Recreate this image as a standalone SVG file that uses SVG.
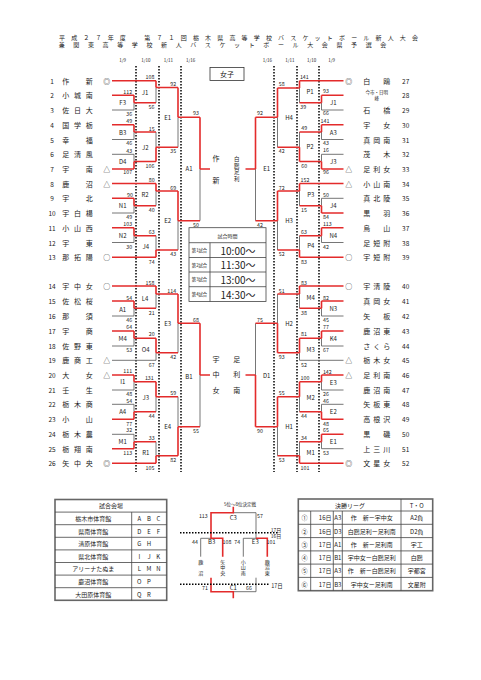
<svg xmlns="http://www.w3.org/2000/svg" width="481" height="680" viewBox="0 0 481 680">
<style>
text{font-family:"Noto Sans CJK JP","Liberation Sans",sans-serif;fill:#222;dominant-baseline:central}
.nm{font-size:7px;text-anchor:middle}
.n{font-size:6.5px;text-anchor:middle}
.mk{font-size:7px;text-anchor:middle}
.sc{font-size:5.3px;text-anchor:middle}
.bx{font-size:6px;text-anchor:middle}
.dt{font-size:4.5px;text-anchor:middle}
.r{stroke:#e32b2b;stroke-width:1.6;fill:none}
.g{stroke:#666;stroke-width:0.9;fill:none}
.dot{stroke:#000;stroke-width:1.5;stroke-dasharray:1.5 1.5;fill:none}
.tb{stroke:#444;stroke-width:0.8;fill:none}
.tbo{stroke:#666;stroke-width:1.6;fill:none}
</style>
<rect width="481" height="680" fill="#fff"/>
<g id="title">
<text x="59" y="37" font-size="6" textLength="359" lengthAdjust="spacing">平成２７年度　第７１回栃木県高等学校バスケットボール新人大会</text>
<text x="58.7" y="44.5" font-size="6" textLength="327.6" lengthAdjust="spacing">兼関東高等学校新人バスケットボール大会県予選会</text>
</g>
<g id="dates">
<text class="dt" x="122.7" y="60">1/9</text><text class="dt" x="146" y="60">1/10</text><text class="dt" x="168.3" y="60">1/11</text><text class="dt" x="190.7" y="60">1/16</text>
<text class="dt" x="267.3" y="60">1/16</text><text class="dt" x="290" y="60">1/11</text><text class="dt" x="311.7" y="60">1/10</text><text class="dt" x="331.7" y="60">1/9</text>
</g>
<g id="guides">
<path class="dot" d="M136,66V472M159,66V472M181,66V472M274,66V472M297,66V472M319,66V472"/>
</g>
<g id="girls-label">
<rect x="210" y="67.5" width="34" height="13" fill="none" stroke="#333" stroke-width="0.8"/>
<text x="227" y="74" font-size="7" text-anchor="middle">女子</text>
</g>
<g id="connectors">
<path class="g" d="M112,110H134M134,102.7V110M156,87.5V102.7M112,139.5H134M134,132V139.5M112,154.3H134M134,154.3V161.5M156,132V147.3M178,117.3V147.3M112,213H134M134,205.7V213M156,191V205.7M112,242.5H134M134,235.7V242.5M156,235.7V250M178,220.7V250M200,169V220.7M112,316H134M134,308.3V316M156,294V308.3M112,346H134M134,338.3V346M112,360.3H156M156,352.7V360.3M178,323.3V352.7M112,390H134M134,381.7V390M112,404.3H134M134,404.3V411.7M156,396.7V411.7M112,434.3H134M134,434.3V441.7M156,441.7V455.7M178,396.7V426.7M200,375V426.7"/>
<path class="g" d="M343.5,110H321.5M321.5,102.7V110M299.5,88V102.7M343.5,139.5H321.5M321.5,132V139.5M343.5,154.3H321.5M321.5,154.3V161.5M299.5,132V147.3M277.5,117.3V147.3M343.5,198.3H321.5M321.5,198.3V205.7M299.5,191V205.7M343.5,242.5H321.5M321.5,235.7V242.5M299.5,235.7V250M277.5,220.7V250M255.5,169V220.7M343.5,316H321.5M321.5,308.3V316M299.5,294V308.3M343.5,346H321.5M321.5,338.3V346M343.5,360.3H299.5M299.5,352.7V360.3M277.5,294V323.3M343.5,390H321.5M321.5,381.7V390M343.5,404.3H321.5M321.5,404.3V411.7M299.5,396.7V411.7M343.5,448.7H321.5M321.5,441.7V448.7M299.5,441.7V455.7M277.5,426.7V455.7M255.5,323.3V375"/>
<path class="r" d="M112,80.7H156M112,95.3H134M134,102.7H156M156,87.5H178M112,124.8H134M134,132H156M112,169H134M134,161.5H156M156,147.3H178M178,117.3H200M112,183.5H156M112,198.3H134M134,205.7H156M156,191H178M112,227.7H134M134,235.7H156M112,257.3H156M156,250H178M178,220.7H200M200,169H210M112,286H156M112,301H134M134,308.3H156M156,294H178M112,331H134M134,338.3H156M156,352.7H178M178,323.3H200M112,375H134M134,381.7H156M112,419.3H134M134,411.7H156M156,396.7H178M112,448.7H134M134,441.7H156M112,463.3H156M156,455.7H178M178,426.7H200M200,375H210"/>
<path class="r" d="M134,95.3V102.7M156,80.7V87.5M134,124.8V132M134,161.5V169M156,147.3V161.5M178,87.5V117.3M134,198.3V205.7M156,183.5V191M134,227.7V235.7M156,250V257.3M178,191V220.7M200,117.3V169M134,301V308.3M156,286V294M134,331V338.3M156,338.3V352.7M178,294V323.3M134,375V381.7M134,411.7V419.3M156,381.7V396.7M134,441.7V448.7M156,455.7V463.3M178,426.7V455.7M200,323.3V375"/>
<path class="r" d="M343.5,80.7H299.5M343.5,95.3H321.5M321.5,102.7H299.5M299.5,88H277.5M343.5,124.8H321.5M321.5,132H299.5M343.5,169H321.5M321.5,161.5H299.5M299.5,147.3H277.5M277.5,117.3H255.5M343.5,183.5H299.5M343.5,213H321.5M321.5,205.7H299.5M299.5,191H277.5M343.5,227.7H321.5M321.5,235.7H299.5M343.5,257.3H299.5M299.5,250H277.5M277.5,220.7H255.5M255.5,169H245.5M343.5,286H299.5M343.5,301H321.5M321.5,308.3H299.5M299.5,294H277.5M343.5,331H321.5M321.5,338.3H299.5M299.5,352.7H277.5M277.5,323.3H255.5M343.5,375H321.5M321.5,381.7H299.5M343.5,419.3H321.5M321.5,411.7H299.5M299.5,396.7H277.5M343.5,434.3H321.5M321.5,441.7H299.5M343.5,463.3H299.5M299.5,455.7H277.5M277.5,426.7H255.5M255.5,375H245.5"/>
<path class="r" d="M321.5,95.3V102.7M299.5,80.7V88M321.5,124.8V132M321.5,161.5V169M299.5,147.3V161.5M277.5,88V117.3M321.5,205.7V213M299.5,183.5V191M321.5,227.7V235.7M299.5,250V257.3M277.5,191V220.7M255.5,117.3V169M321.5,301V308.3M299.5,286V294M321.5,331V338.3M299.5,338.3V352.7M277.5,323.3V352.7M321.5,375V381.7M321.5,411.7V419.3M299.5,381.7V396.7M321.5,434.3V441.7M299.5,455.7V463.3M277.5,396.7V426.7M255.5,375V426.7"/>
<path class="g" d="M233.3,512.7H256V538.3M243.3,538.3H256M243.3,538.3V556.7M200.7,538.3H211M200.7,538.3V556.7M256,577.7V591.7H233.3"/>
<path class="r" d="M233.3,506.7V512.7H211V538.3H222.7V556.7M256,538.3H267.3V556.7M211,577.7V591.7H233.3V598.3"/>
<path class="dot" stroke-width="0.8" d="M180,532.7H279M180,584.3H270"/>
</g>
<g id="left-teams">
<g id="t1"><text class="n" x="52" y="80.7">1</text><text class="nm" x="65.7 89.3" y="80.7">作新</text><text class="mk" x="106.7" y="80.7">◎</text></g>
<g id="t2"><text class="n" x="52" y="95.3">2</text><text class="nm" x="65.7 77.5 89.3" y="95.3">小城南</text></g>
<g id="t3"><text class="n" x="52" y="110">3</text><text class="nm" x="65.7 77.5 89.3" y="110">佐日大</text></g>
<g id="t4"><text class="n" x="52" y="124.8">4</text><text class="nm" x="65.7 77.5 89.3" y="124.8">国学栃</text></g>
<g id="t5"><text class="n" x="52" y="139.5">5</text><text class="nm" x="65.7 89.3" y="139.5">幸福</text></g>
<g id="t6"><text class="n" x="52" y="154.3">6</text><text class="nm" x="65.7 77.5 89.3" y="154.3">足清風</text></g>
<g id="t7"><text class="n" x="52" y="169">7</text><text class="nm" x="65.7 89.3" y="169">宇南</text><text class="mk" x="106.7" y="169">△</text></g>
<g id="t8"><text class="n" x="52" y="183.5">8</text><text class="nm" x="65.7 89.3" y="183.5">鹿沼</text><text class="mk" x="106.7" y="183.5">△</text></g>
<g id="t9"><text class="n" x="52" y="198.3">9</text><text class="nm" x="65.7 89.3" y="198.3">宇北</text></g>
<g id="t10"><text class="n" x="52" y="213">10</text><text class="nm" x="65.7 77.5 89.3" y="213">宇白楊</text></g>
<g id="t11"><text class="n" x="52" y="227.7">11</text><text class="nm" x="65.7 77.5 89.3" y="227.7">小山西</text></g>
<g id="t12"><text class="n" x="52" y="242.5">12</text><text class="nm" x="65.7 89.3" y="242.5">宇東</text></g>
<g id="t13"><text class="n" x="52" y="257.3">13</text><text class="nm" x="65.7 77.5 89.3" y="257.3">那拓陽</text><text class="mk" x="106.7" y="257.3">○</text></g>
<g id="t14"><text class="n" x="52" y="286">14</text><text class="nm" x="65.7 77.5 89.3" y="286">宇中女</text><text class="mk" x="106.7" y="286">○</text></g>
<g id="t15"><text class="n" x="52" y="301">15</text><text class="nm" x="65.7 77.5 89.3" y="301">佐松桜</text></g>
<g id="t16"><text class="n" x="52" y="316">16</text><text class="nm" x="65.7 89.3" y="316">那須</text></g>
<g id="t17"><text class="n" x="52" y="331">17</text><text class="nm" x="65.7 89.3" y="331">宇商</text></g>
<g id="t18"><text class="n" x="52" y="346">18</text><text class="nm" x="65.7 77.5 89.3" y="346">佐野東</text></g>
<g id="t19"><text class="n" x="52" y="360.3">19</text><text class="nm" x="65.7 77.5 89.3" y="360.3">鹿商工</text><text class="mk" x="106.7" y="360.3">△</text></g>
<g id="t20"><text class="n" x="52" y="375">20</text><text class="nm" x="65.7 89.3" y="375">大女</text><text class="mk" x="106.7" y="375">△</text></g>
<g id="t21"><text class="n" x="52" y="390">21</text><text class="nm" x="65.7 89.3" y="390">壬生</text></g>
<g id="t22"><text class="n" x="52" y="404.3">22</text><text class="nm" x="65.7 77.5 89.3" y="404.3">栃木商</text></g>
<g id="t23"><text class="n" x="52" y="419.3">23</text><text class="nm" x="65.7 89.3" y="419.3">小山</text></g>
<g id="t24"><text class="n" x="52" y="434.3">24</text><text class="nm" x="65.7 77.5 89.3" y="434.3">栃木農</text></g>
<g id="t25"><text class="n" x="52" y="448.7">25</text><text class="nm" x="65.7 77.5 89.3" y="448.7">栃翔南</text></g>
<g id="t26"><text class="n" x="52" y="463.3">26</text><text class="nm" x="65.7 77.5 89.3" y="463.3">矢中央</text><text class="mk" x="106.7" y="463.3">◎</text></g>
</g>
<g id="right-teams">
<g id="t27"><text class="mk" x="348.8" y="80.7">◎</text><text class="nm" x="366.7 386.7" y="80.7">白鴎</text><text class="n" x="405.7" y="80.7">27</text></g>
<g id="t28"><text x="376.7" y="92" font-size="4.5" text-anchor="middle">今市・日明</text><text x="376.7" y="97.8" font-size="4.5" text-anchor="middle">峰</text><text class="n" x="405.7" y="95.3">28</text></g>
<g id="t29"><text class="nm" x="366.7 386.7" y="110">石橋</text><text class="n" x="405.7" y="110">29</text></g>
<g id="t30"><text class="nm" x="366.7 386.7" y="124.8">宇女</text><text class="n" x="405.7" y="124.8">30</text></g>
<g id="t31"><text class="nm" x="366.7 376.7 386.7" y="139.5">真岡南</text><text class="n" x="405.7" y="139.5">31</text></g>
<g id="t32"><text class="nm" x="366.7 386.7" y="154.3">茂木</text><text class="n" x="405.7" y="154.3">32</text></g>
<g id="t33"><text class="mk" x="348.8" y="169">△</text><text class="nm" x="366.7 376.7 386.7" y="169">足利女</text><text class="n" x="405.7" y="169">33</text></g>
<g id="t34"><text class="mk" x="348.8" y="183.5">△</text><text class="nm" x="366.7 376.7 386.7" y="183.5">小山南</text><text class="n" x="405.7" y="183.5">34</text></g>
<g id="t35"><text class="nm" x="366.7 376.7 386.7" y="198.3">真北陵</text><text class="n" x="405.7" y="198.3">35</text></g>
<g id="t36"><text class="nm" x="366.7 386.7" y="213">黒羽</text><text class="n" x="405.7" y="213">36</text></g>
<g id="t37"><text class="nm" x="366.7 386.7" y="227.7">烏山</text><text class="n" x="405.7" y="227.7">37</text></g>
<g id="t38"><text class="nm" x="366.7 376.7 386.7" y="242.5">足短附</text><text class="n" x="405.7" y="242.5">38</text></g>
<g id="t39"><text class="mk" x="348.8" y="257.3">○</text><text class="nm" x="366.7 376.7 386.7" y="257.3">宇短附</text><text class="n" x="405.7" y="257.3">39</text></g>
<g id="t40"><text class="mk" x="348.8" y="286">○</text><text class="nm" x="366.7 376.7 386.7" y="286">宇清陵</text><text class="n" x="405.7" y="286">40</text></g>
<g id="t41"><text class="nm" x="366.7 376.7 386.7" y="301">真岡女</text><text class="n" x="405.7" y="301">41</text></g>
<g id="t42"><text class="nm" x="366.7 386.7" y="316">矢板</text><text class="n" x="405.7" y="316">42</text></g>
<g id="t43"><text class="nm" x="366.7 376.7 386.7" y="331">鹿沼東</text><text class="n" x="405.7" y="331">43</text></g>
<g id="t44"><text class="nm" x="366.7 376.7 386.7" y="346">さくら</text><text class="n" x="405.7" y="346">44</text></g>
<g id="t45"><text class="mk" x="348.8" y="360.3">△</text><text class="nm" x="366.7 376.7 386.7" y="360.3">栃木女</text><text class="n" x="405.7" y="360.3">45</text></g>
<g id="t46"><text class="mk" x="348.8" y="375">△</text><text class="nm" x="366.7 376.7 386.7" y="375">足利南</text><text class="n" x="405.7" y="375">46</text></g>
<g id="t47"><text class="nm" x="366.7 376.7 386.7" y="390">鹿沼南</text><text class="n" x="405.7" y="390">47</text></g>
<g id="t48"><text class="nm" x="366.7 376.7 386.7" y="404.3">矢板東</text><text class="n" x="405.7" y="404.3">48</text></g>
<g id="t49"><text class="nm" x="366.7 376.7 386.7" y="419.3">高根沢</text><text class="n" x="405.7" y="419.3">49</text></g>
<g id="t50"><text class="nm" x="366.7 386.7" y="434.3">黒磯</text><text class="n" x="405.7" y="434.3">50</text></g>
<g id="t51"><text class="nm" x="366.7 376.7 386.7" y="448.7">上三川</text><text class="n" x="405.7" y="448.7">51</text></g>
<g id="t52"><text class="mk" x="348.8" y="463.3">◎</text><text class="nm" x="366.7 376.7 386.7" y="463.3">文星女</text><text class="n" x="405.7" y="463.3">52</text></g>
</g>
<g id="left-matches">
<text class="sc" x="150" y="76.7">108</text><text class="sc" x="127.7" y="92">112</text><text class="bx" x="122.7" y="102.7">F3</text><text class="bx" x="145" y="92.3">J1</text><text class="sc" x="151.5" y="106.7">56</text><text class="sc" x="129.3" y="113.7">36</text>
<text class="sc" x="173.3" y="84.3">92</text><text class="bx" x="167.7" y="117.3">E1</text><text class="sc" x="196" y="113.3">93</text>
<text class="sc" x="129.3" y="121">49</text><text class="bx" x="122.7" y="132.3">B3</text><text class="sc" x="151.7" y="129">15</text><text class="sc" x="129.3" y="143.3">46</text><text class="bx" x="145.3" y="147.3">J2</text><text class="sc" x="173.3" y="150.7">35</text>
<text class="sc" x="129.3" y="150.7">43</text><text class="bx" x="122.7" y="161.5">D4</text><text class="sc" x="150" y="166">106</text><text class="sc" x="127.7" y="172">107</text>
<text class="bx" x="189" y="168.3">A1</text>
<text class="sc" x="151.7" y="180">80</text><text class="sc" x="173.3" y="187.7">69</text><text class="bx" x="145" y="194.3">R2</text><text class="sc" x="130" y="195">90</text><text class="bx" x="122.7" y="205.7">N1</text><text class="sc" x="151.7" y="210">40</text><text class="sc" x="129.3" y="217.3">49</text>
<text class="bx" x="167.7" y="220.7">E2</text><text class="sc" x="196" y="225">50</text>
<text class="sc" x="127.7" y="224.3">103</text><text class="sc" x="151.7" y="231.7">63</text><text class="bx" x="122.7" y="235.7">N2</text><text class="sc" x="129.3" y="246.7">30</text><text class="bx" x="145.7" y="246.7">J4</text><text class="sc" x="173.3" y="254.3">43</text><text class="sc" x="151.7" y="261.7">74</text>
<text class="sc" x="150" y="282.7">158</text><text class="sc" x="171.7" y="290.7">114</text><text class="sc" x="129.3" y="297.7">54</text><text class="bx" x="145" y="298.3">L4</text><text class="bx" x="122.7" y="309">A1</text><text class="sc" x="151.7" y="312.7">21</text><text class="sc" x="129.3" y="320">46</text>
<text class="sc" x="196" y="320">68</text><text class="bx" x="167.7" y="323.3">E3</text>
<text class="sc" x="129.3" y="327.3">64</text><text class="sc" x="151.7" y="334.3">20</text><text class="bx" x="122.7" y="338.3">M4</text><text class="bx" x="145.7" y="349.3">O4</text><text class="sc" x="129.3" y="350">53</text><text class="sc" x="173.3" y="357.3">42</text><text class="sc" x="151.7" y="365">67</text>
<text class="sc" x="127.7" y="371">111</text><text class="bx" x="189" y="376">B1</text><text class="sc" x="149.3" y="378">131</text><text class="bx" x="122.7" y="381.7">I1</text><text class="sc" x="173.3" y="393.3">59</text><text class="sc" x="129.3" y="393.8">48</text><text class="bx" x="145.7" y="397.7">J3</text>
<text class="sc" x="129.3" y="401">54</text><text class="bx" x="122.7" y="411.7">A4</text><text class="sc" x="151.7" y="415.7">44</text><text class="sc" x="129.3" y="423.7">77</text><text class="bx" x="167.7" y="426.7">E4</text>
<text class="sc" x="129.3" y="430.3">32</text><text class="sc" x="196" y="431">55</text><text class="sc" x="151.7" y="437.7">33</text><text class="bx" x="122.7" y="441.7">M1</text><text class="bx" x="145.7" y="452.3">R1</text><text class="sc" x="127.7" y="453">113</text><text class="sc" x="173.3" y="460">82</text><text class="sc" x="150" y="467.7">105</text>
</g>
<g id="right-matches">
<text class="sc" x="304.3" y="76.7">141</text><text class="sc" x="281.7" y="84.3">58</text><text class="sc" x="326" y="91">93</text><text class="bx" x="310" y="91.7">P1</text><text class="bx" x="333.3" y="102.7">J1</text><text class="sc" x="303.3" y="106.7">39</text><text class="sc" x="326" y="113.3">66</text>
<text class="sc" x="260" y="113.3">92</text><text class="bx" x="289" y="117.3">H4</text>
<text class="sc" x="325" y="121">141</text><text class="sc" x="304.3" y="128.3">49</text><text class="bx" x="333.3" y="132.3">A3</text><text class="sc" x="326" y="143.3">43</text><text class="bx" x="310" y="146.7">P2</text><text class="sc" x="281.7" y="150.7">42</text>
<text class="sc" x="326" y="150.3">16</text><text class="bx" x="333.3" y="161">J3</text><text class="sc" x="304.3" y="166">60</text><text class="sc" x="326" y="172">96</text>
<text class="bx" x="266.7" y="168.3">E1</text>
<text class="sc" x="305" y="180">152</text><text class="sc" x="281.7" y="187.7">72</text><text class="bx" x="310.7" y="194.3">P3</text><text class="sc" x="326" y="195">50</text><text class="bx" x="333.3" y="205.7">J4</text><text class="sc" x="304" y="210">15</text><text class="sc" x="326" y="217.3">84</text>
<text class="bx" x="289" y="220.7">H3</text><text class="sc" x="260" y="225">42</text>
<text class="sc" x="327.3" y="224.3">113</text><text class="sc" x="304" y="231.7">63</text><text class="bx" x="333.3" y="235.7">N4</text><text class="bx" x="310.7" y="245.7">P4</text><text class="sc" x="326" y="246.7">42</text><text class="sc" x="281.7" y="254.3">52</text><text class="sc" x="304" y="261.7">83</text>
<text class="sc" x="304" y="282.7">83</text><text class="sc" x="281.7" y="290.7">51</text><text class="bx" x="310.7" y="297.7">M4</text><text class="sc" x="326" y="297.7">82</text><text class="bx" x="333.3" y="308.3">N3</text><text class="sc" x="304" y="312.7">38</text><text class="sc" x="326" y="320">45</text>
<text class="sc" x="260" y="320">75</text><text class="bx" x="289" y="323.3">H2</text>
<text class="sc" x="326" y="327.3">77</text><text class="sc" x="304" y="334.3">81</text><text class="bx" x="333.3" y="338.3">K4</text><text class="bx" x="310.7" y="349.3">M3</text><text class="sc" x="326" y="350">67</text><text class="sc" x="281.7" y="357.3">93</text><text class="sc" x="304" y="365">52</text>
<text class="sc" x="327.3" y="371.7">142</text><text class="bx" x="266.7" y="375">D1</text>
<text class="sc" x="305" y="378.3">100</text><text class="bx" x="333.3" y="382.3">E3</text><text class="sc" x="281.7" y="393.3">55</text><text class="sc" x="326" y="393.8">26</text><text class="bx" x="310.7" y="397.7">M2</text>
<text class="sc" x="326" y="401">46</text><text class="bx" x="333.3" y="411.7">E2</text><text class="sc" x="304" y="415.7">44</text><text class="sc" x="326" y="423.7">48</text><text class="bx" x="289" y="426.7">H1</text>
<text class="sc" x="326" y="430.3">65</text><text class="sc" x="260" y="431">90</text><text class="sc" x="304" y="437.7">34</text><text class="bx" x="333.3" y="441.7">E1</text><text class="bx" x="310.7" y="452.3">M1</text><text class="sc" x="326" y="453">53</text><text class="sc" x="281.7" y="460">53</text><text class="sc" x="305" y="467.7">101</text>
</g>
<g id="finalists">
<text class="nm" x="216" y="157.7">作</text><text class="nm" x="216" y="179.7">新</text>
<text x="236.7" y="159" font-size="5.5" text-anchor="middle">白</text><text x="236.7" y="165.5" font-size="5.5" text-anchor="middle">鴎</text><text x="236.7" y="172" font-size="5.5" text-anchor="middle">足</text><text x="236.7" y="178.5" font-size="5.5" text-anchor="middle">利</text>
<text class="nm" x="216" y="359.3">宇</text><text class="nm" x="216" y="374.3">中</text><text class="nm" x="216" y="390">女</text>
<text class="nm" x="236.7" y="359.3">足</text><text class="nm" x="236.7" y="374.3">利</text><text class="nm" x="236.7" y="390">南</text>
</g>
<g id="time-table">
<rect x="189" y="227.7" width="77" height="73.8" class="tb"/>
<path class="tb" d="M189,242.7H266M189,257.5H266M189,272H266M189,286.7H266M210,242.7V301.5"/>
<text x="227.5" y="235.2" font-size="5" text-anchor="middle">試合時間</text>
<text x="199.5" y="250" font-size="4.3" text-anchor="middle">第1試合</text><text x="238" y="250" font-size="10" text-anchor="middle">10:00〜</text>
<text x="199.5" y="264.7" font-size="4.3" text-anchor="middle">第2試合</text><text x="238" y="264.7" font-size="10" text-anchor="middle">11:30〜</text>
<text x="199.5" y="279.3" font-size="4.3" text-anchor="middle">第3試合</text><text x="238" y="279.3" font-size="10" text-anchor="middle">13:00〜</text>
<text x="199.5" y="294" font-size="4.3" text-anchor="middle">第4試合</text><text x="238" y="294" font-size="10" text-anchor="middle">14:30〜</text>
</g>
<g id="venue-table">
<rect x="55" y="499.5" width="111.7" height="100.8" class="tbo"/>
<path class="tb" d="M55,512.1H166.7M55,524.7H166.7M55,537.3H166.7M55,549.9H166.7M55,562.5H166.7M55,575.1H166.7M55,587.7H166.7M131.7,512.1V600.3"/>
<text x="111" y="505.8" font-size="6" text-anchor="middle">試合会場</text>
<text x="93.3" y="518.4" font-size="6" text-anchor="middle">栃木市体育館</text><text x="139.3 149 158.3" y="518.4" font-size="6" text-anchor="middle">ABC</text>
<text x="93.3" y="531" font-size="6" text-anchor="middle">県南体育館</text><text x="139.3 149 158.3" y="531" font-size="6" text-anchor="middle">DEF</text>
<text x="93.3" y="543.6" font-size="6" text-anchor="middle">清原体育館</text><text x="139.3 149" y="543.6" font-size="6" text-anchor="middle">GH</text>
<text x="93.3" y="556.2" font-size="6" text-anchor="middle">県北体育館</text><text x="139.3 149 158.3" y="556.2" font-size="6" text-anchor="middle">IJK</text>
<text x="93.3" y="568.8" font-size="6" text-anchor="middle">アリーナたぬま</text><text x="139.3 149 158.3" y="568.8" font-size="6" text-anchor="middle">LMN</text>
<text x="93.3" y="581.4" font-size="6" text-anchor="middle">鹿沼体育館</text><text x="139.3 149" y="581.4" font-size="6" text-anchor="middle">OP</text>
<text x="93.3" y="594" font-size="6" text-anchor="middle">大田原体育館</text><text x="139.3 149" y="594" font-size="6" text-anchor="middle">QR</text>
</g>
<g id="placement">
<text x="240" y="504" font-size="4.5" text-anchor="middle">5位〜8位決定戦</text>
<text class="sc" x="203.3" y="516">113</text><text class="bx" x="233.3" y="517.7">C3</text><text class="sc" x="260" y="516">57</text>
<text x="276" y="529.8" font-size="5" text-anchor="middle">17日</text><text x="276" y="535.6" font-size="5" text-anchor="middle">16日</text>
<text class="sc" x="195" y="541.7">44</text><text class="bx" x="211.7" y="541.7">B3</text><text class="sc" x="227" y="541.7">108</text><text class="sc" x="237.3" y="541.7">74</text><text class="bx" x="255.3" y="541.7">E3</text><text class="sc" x="271" y="542.3">101</text>
<text x="200.7" y="561" font-size="5" text-anchor="middle">鹿</text><text x="200.7" y="572" font-size="5" text-anchor="middle">沼</text>
<text x="222.7" y="561" font-size="5" text-anchor="middle">矢</text><text x="222.7" y="566.7" font-size="5" text-anchor="middle">中</text><text x="222.7" y="572.4" font-size="5" text-anchor="middle">央</text>
<text x="243.3" y="561" font-size="5" text-anchor="middle">小</text><text x="243.3" y="566.7" font-size="5" text-anchor="middle">山</text><text x="243.3" y="572.4" font-size="5" text-anchor="middle">南</text>
<text x="267.3" y="561" font-size="5" text-anchor="middle">鹿</text><text x="267.3" y="566.7" font-size="5" text-anchor="middle">沼</text><text x="267.3" y="572.4" font-size="5" text-anchor="middle">東</text>
<text class="sc" x="205" y="588.3">71</text><text class="bx" x="233.3" y="587.3">C1</text><text class="sc" x="249" y="588.3">66</text><text x="277" y="586" font-size="5.5" text-anchor="middle">17日</text>
</g>
<g id="final-league">
<rect x="298.3" y="499" width="134.4" height="91.7" class="tbo"/>
<path class="tb" d="M298.3,511H432.7M298.3,524.3H432.7M298.3,537.6H432.7M298.3,550.9H432.7M298.3,564.1H432.7M298.3,577.4H432.7M401,499V590.7M310.7,511V590.7M333.3,511V590.7M342.3,511V590.7"/>
<text x="350" y="505" font-size="6" text-anchor="middle">決勝リーグ</text><text x="416.8" y="505" font-size="6" text-anchor="middle">T・O</text>
<g font-size="6">
<text x="304.5" y="517.7" text-anchor="middle">①</text><text x="331.5" y="517.7" text-anchor="end">16日</text><text x="337.8" y="517.7" text-anchor="middle">A3</text><text x="371.7" y="517.7" text-anchor="middle">作　新ー宇中女</text><text x="416.8" y="517.7" text-anchor="middle">A2負</text>
<text x="304.5" y="531" text-anchor="middle">②</text><text x="331.5" y="531" text-anchor="end">16日</text><text x="337.8" y="531" text-anchor="middle">D3</text><text x="371.7" y="531" text-anchor="middle">白鴎足利ー足利南</text><text x="416.8" y="531" text-anchor="middle">D2負</text>
<text x="304.5" y="544.2" text-anchor="middle">③</text><text x="331.5" y="544.2" text-anchor="end">17日</text><text x="337.8" y="544.2" text-anchor="middle">A1</text><text x="371.7" y="544.2" text-anchor="middle">作　新ー足利南</text><text x="416.8" y="544.2" text-anchor="middle">宇工</text>
<text x="304.5" y="557.5" text-anchor="middle">④</text><text x="331.5" y="557.5" text-anchor="end">17日</text><text x="337.8" y="557.5" text-anchor="middle">B1</text><text x="371.7" y="557.5" text-anchor="middle">宇中女ー白鴎足利</text><text x="416.8" y="557.5" text-anchor="middle">白鴎</text>
<text x="304.5" y="570.8" text-anchor="middle">⑤</text><text x="331.5" y="570.8" text-anchor="end">17日</text><text x="337.8" y="570.8" text-anchor="middle">A3</text><text x="371.7" y="570.8" text-anchor="middle">作　新ー白鴎足利</text><text x="416.8" y="570.8" text-anchor="middle">宇都宮</text>
<text x="304.5" y="584" text-anchor="middle">⑥</text><text x="331.5" y="584" text-anchor="end">17日</text><text x="337.8" y="584" text-anchor="middle">B3</text><text x="371.7" y="584" text-anchor="middle">宇中女ー足利南</text><text x="416.8" y="584" text-anchor="middle">文星附</text>
</g>
</g>
</svg>
